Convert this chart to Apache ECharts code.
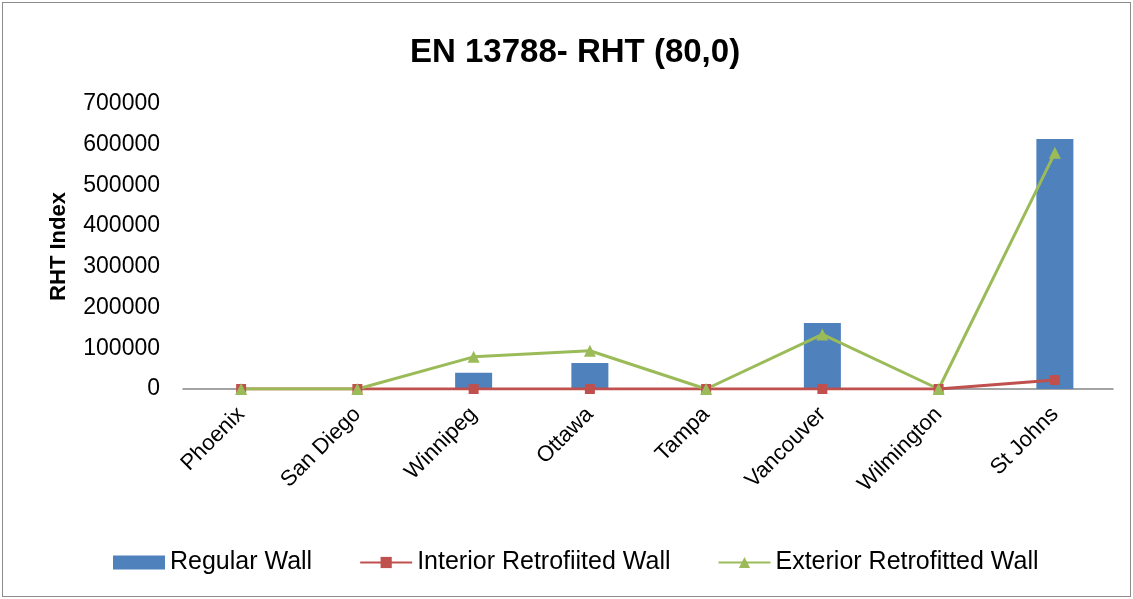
<!DOCTYPE html>
<html>
<head>
<meta charset="utf-8">
<script src="https://cdn.jsdelivr.net/npm/echarts@6/dist/echarts.min.js"></script>
<style>
  html, body { margin: 0; padding: 0; background: #fff; }
  #frame { position: absolute; left: 2px; top: 2px; width: 1127px; height: 593px; border: 1px solid #8c8c8c; }
  #chart { position: absolute; left: 0; top: 0; width: 1133px; height: 599px; }
</style>
</head>
<body>
<div id="frame"></div>
<div id="chart"></div>
<script>
const cities = ['Phoenix', 'San Diego', 'Winnipeg', 'Ottawa', 'Tampa', 'Vancouver', 'Wilmington', 'St Johns'];
const regularWall = [0, 0, 40000, 64000, 0, 162000, 0, 614000];
const interiorRetrofit = [0, 0, 0, 0, 0, 0, 0, 22000];
const exteriorRetrofit = [0, 0, 79000, 94000, 0, 134000, 0, 580000];
const yTicks = { min: 0, max: 700000, interval: 100000 };

const font = 'Liberation Sans';
const chart = echarts.init(document.getElementById('chart'), null, { renderer: 'canvas' });
chart.setOption({
  animation: false,
  backgroundColor: 'transparent',
  title: {
    text: 'EN 13788- RHT (80,0)',
    left: 410,
    top: 36,
    padding: 0,
    textStyle: { fontFamily: font, fontWeight: 'bold', fontSize: 33, color: '#000' }
  },
  grid: { left: 183, right: 20, top: 104, bottom: 210, containLabel: false },
  legend: {
    top: 550,
    left: 113,
    padding: 0,
    itemWidth: 52,
    itemHeight: 14,
    itemGap: 47,
    textStyle: { fontFamily: font, fontSize: 25, color: '#000' },
    data: [
      { name: 'Regular Wall', icon: 'rect' },
      'Interior Retrofiited Wall',
      'Exterior Retrofitted Wall'
    ]
  },
  xAxis: {
    type: 'category',
    data: cities,
    axisLine: { lineStyle: { color: '#868686', width: 1.5 } },
    axisTick: { show: false },
    axisLabel: { rotate: 45, fontFamily: font, fontSize: 22, color: '#000', margin: 22 }
  },
  yAxis: {
    type: 'value',
    min: yTicks.min,
    max: yTicks.max,
    interval: yTicks.interval,
    name: 'RHT Index',
    nameLocation: 'middle',
    nameGap: 113,
    nameTextStyle: { fontFamily: font, fontSize: 22, fontWeight: 'bold', color: '#000' },
    axisLine: { show: false },
    axisTick: { show: false },
    splitLine: { show: false },
    axisLabel: {
      fontFamily: font,
      fontSize: 23,
      color: '#000',
      margin: 23,
      padding: [7, 0, 0, 0],
      formatter: (v) => String(v)
    }
  },
  series: [
    {
      name: 'Regular Wall',
      type: 'bar',
      data: regularWall,
      barWidth: 37,
      itemStyle: { color: '#4f81bd' }
    },
    {
      name: 'Interior Retrofiited Wall',
      type: 'line',
      data: interiorRetrofit,
      symbol: 'rect',
      symbolSize: 10,
      showAllSymbol: true,
      lineStyle: { color: '#c0504d', width: 3 },
      itemStyle: { color: '#c0504d' }
    },
    {
      name: 'Exterior Retrofitted Wall',
      type: 'line',
      data: exteriorRetrofit,
      symbol: 'triangle',
      symbolSize: 12,
      showAllSymbol: true,
      lineStyle: { color: '#9bbb59', width: 3 },
      itemStyle: { color: '#9bbb59' }
    }
  ]
});
</script>
</body>
</html>
